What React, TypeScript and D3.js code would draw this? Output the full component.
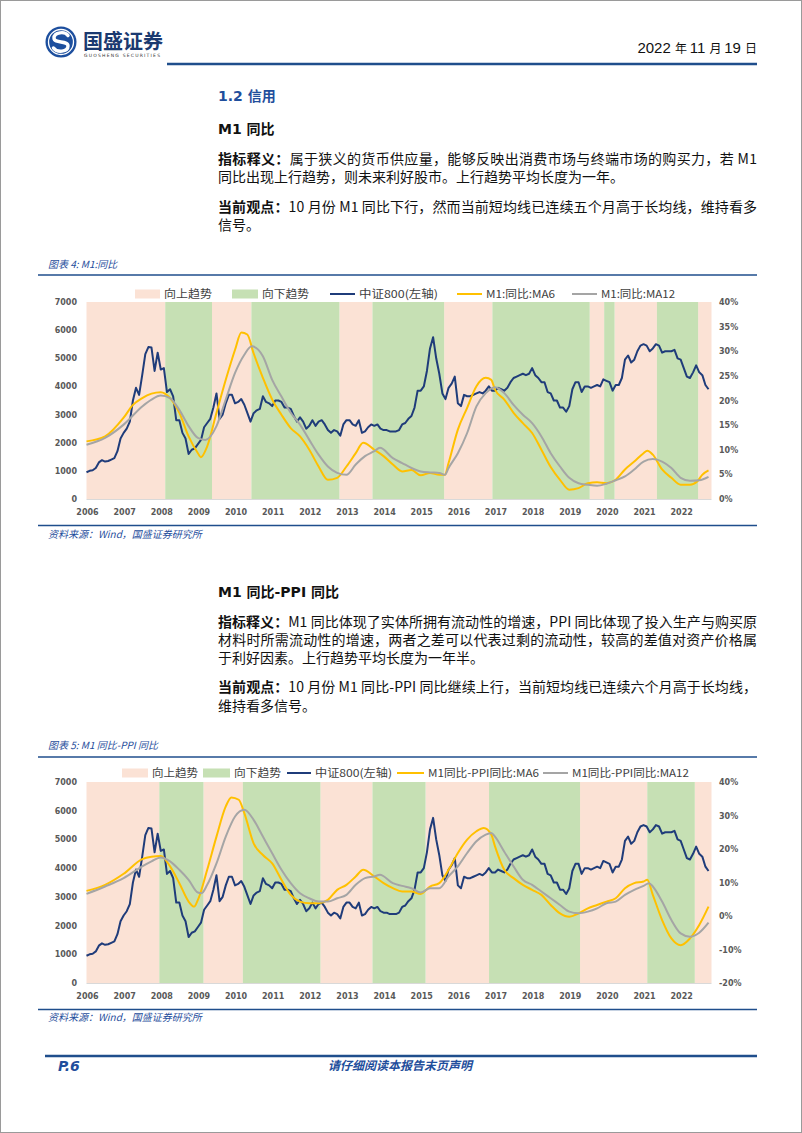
import * as d3 from 'd3';
import React from 'react';

const CJK = '"Noto Sans CJK SC", "Noto Sans", sans-serif';
const AXIS_FONT = '"DejaVu Sans", Verdana, sans-serif';
const BLUE = '#1f4e9c';
const NAVY = '#1f3c7a';
const YELLOW = '#ffc000';
const GRAY = '#a5a5a5';
const PINK = '#fbe2d5';
const GREEN = '#c6e0b4';

// monthly 2006-01 .. 2022-10
const months = d3.range(202).map(i => 2006 + i / 12);
const yearTicks = d3.range(2006, 2023);

// 中证800 monthly close (approx)
const csi800 = [
  950, 1000, 1020, 1100, 1300, 1380, 1330, 1350, 1400, 1450, 1700, 2150,
  2350, 2500, 2750, 3500, 3950, 3700, 4400, 5150, 5400, 5380, 4550, 5200,
  4600, 4650, 3800, 3900, 3650, 2800, 2800, 2350, 2150, 1600, 1750, 1800,
  1950, 2100, 2550, 2700, 2850, 3250, 3750, 2850, 3000, 3400, 3700, 3700,
  3400, 3450, 3550, 3350, 3050, 2750, 3050, 3150, 3200, 3650, 3450, 3400,
  3300, 3500, 3500, 3450, 3250, 3250, 3200, 2950, 2750, 2900, 2750, 2500,
  2600, 2800, 2600, 2750, 2800, 2650, 2450, 2350, 2450, 2400, 2250, 2650,
  2800, 2800, 2650, 2600, 2800, 2350, 2400, 2550, 2650, 2600, 2650, 2500,
  2450, 2450, 2400, 2400, 2400, 2450, 2650, 2700, 2850, 2950, 3250, 3850,
  3850, 4000, 4550, 5350, 5750, 5000, 4450, 3750, 3550, 3950, 4100, 4350,
  3400, 3300, 3700, 3650, 3650, 3700, 3750, 3800, 3750, 3850, 4000, 3850,
  3850, 3950, 3900, 3850, 3950, 4150, 4300, 4350, 4400, 4450, 4400, 4450,
  4650, 4400, 4300, 4150, 4150, 3800, 3750, 3500, 3500, 3250, 3250, 3100,
  3300, 3900, 4150, 4150, 3800, 4000, 4000, 3950, 4000, 4050, 4000, 4250,
  4200, 4150, 3850, 4050, 4050, 4300, 4950, 5100, 4850, 4950, 5250, 5450,
  5500, 5450, 5250, 5350, 5500, 5450, 5200, 5250, 5250, 5250, 5300, 5000,
  4950, 4650, 4350, 4300, 4500, 4750, 4500, 4400, 4050, 3900,
];

// M1 同比 moving averages (%), [year, value]
const m1Ma6: [number, number][] = [
  [2006.0, 11.7], [2006.5, 12.7], [2007.0, 16.5], [2007.25, 19.1], [2007.5, 20.5], [2007.75, 21.4],
  [2008.0, 21.7], [2008.25, 20.5], [2008.5, 17.5], [2008.75, 12.7], [2009.0, 9.3], [2009.08, 8.5],
  [2009.25, 10.7], [2009.5, 17.5], [2009.75, 24.2], [2010.0, 30.3], [2010.17, 33.8], [2010.33, 33.4],
  [2010.5, 29.6], [2010.75, 24.6], [2011.0, 20.2], [2011.25, 17.1], [2011.5, 14.4], [2011.75, 12.7],
  [2012.0, 10.0], [2012.25, 6.6], [2012.5, 3.9], [2012.75, 4.3], [2013.0, 6.6], [2013.25, 9.3],
  [2013.45, 11.4], [2013.75, 10.0], [2014.0, 8.7], [2014.25, 7.0], [2014.5, 5.6], [2014.75, 5.9],
  [2015.0, 4.8], [2015.25, 5.3], [2015.5, 4.9], [2015.65, 4.9], [2015.75, 7.3], [2016.0, 14.1],
  [2016.25, 18.5], [2016.5, 22.9], [2016.75, 24.6], [2016.9, 24.2], [2017.0, 22.2], [2017.25, 20.2],
  [2017.5, 17.5], [2017.75, 15.4], [2018.0, 13.4], [2018.25, 10.0], [2018.5, 6.5], [2018.75, 3.9],
  [2019.0, 1.9], [2019.25, 2.2], [2019.5, 3.2], [2019.75, 3.4], [2020.0, 3.2], [2020.25, 3.9],
  [2020.5, 6.0], [2020.75, 7.6], [2021.0, 9.3], [2021.1, 9.8], [2021.25, 9.0], [2021.5, 6.0],
  [2021.75, 4.3], [2022.0, 2.9], [2022.25, 2.9], [2022.45, 3.6], [2022.58, 4.9], [2022.75, 5.8],
];
const m1Ma12: [number, number][] = [
  [2006.0, 11.0], [2006.5, 12.4], [2007.0, 15.1], [2007.5, 18.8], [2007.75, 20.2], [2008.0, 21.0],
  [2008.25, 20.5], [2008.5, 18.1], [2008.75, 14.8], [2009.0, 12.4], [2009.2, 12.0], [2009.5, 14.8],
  [2009.75, 20.2], [2010.0, 25.6], [2010.25, 29.3], [2010.45, 31.0], [2010.75, 29.0], [2011.0, 24.2],
  [2011.25, 20.8], [2011.5, 17.5], [2011.75, 15.1], [2012.0, 12.0], [2012.25, 9.0], [2012.5, 6.6],
  [2012.75, 5.3], [2013.0, 4.9], [2013.25, 7.0], [2013.5, 8.7], [2013.75, 9.7], [2013.9, 10.4],
  [2014.25, 8.3], [2014.5, 7.3], [2014.75, 6.3], [2015.0, 5.6], [2015.25, 5.4], [2015.5, 5.3],
  [2015.65, 4.9], [2015.75, 6.3], [2016.0, 9.3], [2016.25, 13.4], [2016.5, 18.8], [2016.75, 21.5],
  [2017.0, 22.7], [2017.25, 21.5], [2017.5, 19.1], [2017.75, 17.1], [2018.0, 15.4], [2018.25, 12.7],
  [2018.5, 9.3], [2018.75, 6.6], [2019.0, 4.3], [2019.25, 3.2], [2019.5, 2.9], [2019.75, 2.7],
  [2020.0, 3.1], [2020.25, 3.8], [2020.5, 4.6], [2020.75, 6.0], [2021.0, 7.6], [2021.25, 8.1],
  [2021.5, 7.6], [2021.75, 6.3], [2022.0, 4.3], [2022.25, 3.7], [2022.5, 3.8], [2022.75, 4.5],
];

// M1 同比-PPI 同比 moving averages (%)
const gapMa6: [number, number][] = [
  [2006.0, 7.5], [2006.5, 9.3], [2007.0, 12.6], [2007.5, 17.0], [2007.75, 17.7], [2008.0, 17.9],
  [2008.25, 14.8], [2008.5, 9.8], [2008.75, 4.3], [2008.9, 2.8], [2009.0, 4.8], [2009.25, 13.8],
  [2009.5, 23.7], [2009.75, 32.7], [2009.9, 35.4], [2010.1, 34.7], [2010.25, 30.7], [2010.5, 21.7],
  [2010.75, 18.2], [2011.0, 15.7], [2011.25, 10.8], [2011.5, 6.3], [2011.75, 4.3], [2012.0, 3.8],
  [2012.25, 3.8], [2012.5, 4.8], [2012.75, 7.8], [2013.0, 9.3], [2013.25, 11.8], [2013.45, 13.8],
  [2013.75, 11.8], [2014.0, 9.8], [2014.25, 8.3], [2014.5, 7.3], [2014.75, 7.3], [2015.0, 6.6],
  [2015.25, 8.8], [2015.5, 9.8], [2015.75, 13.8], [2016.0, 18.8], [2016.25, 22.8], [2016.5, 25.3],
  [2016.7, 26.3], [2016.9, 24.3], [2017.0, 20.8], [2017.25, 13.8], [2017.5, 11.3], [2017.75, 9.3],
  [2018.0, 7.8], [2018.25, 6.3], [2018.5, 3.3], [2018.75, 0.8], [2019.0, -0.2], [2019.25, 0.8],
  [2019.5, 2.3], [2019.75, 3.3], [2020.0, 4.3], [2020.25, 5.3], [2020.5, 8.3], [2020.75, 9.8],
  [2021.0, 10.3], [2021.1, 10.8], [2021.25, 6.3], [2021.5, -1.2], [2021.75, -6.7], [2022.0, -8.7],
  [2022.25, -6.7], [2022.5, -2.7], [2022.75, 2.8],
];
const gapMa12: [number, number][] = [
  [2006.0, 6.6], [2006.5, 8.8], [2007.0, 11.3], [2007.5, 14.8], [2007.75, 16.3], [2008.0, 17.5],
  [2008.25, 16.3], [2008.5, 13.8], [2008.75, 10.8], [2009.0, 7.0], [2009.1, 6.8], [2009.25, 9.3],
  [2009.5, 15.7], [2009.75, 23.7], [2010.0, 29.7], [2010.25, 31.7], [2010.5, 28.7], [2010.75, 23.7],
  [2011.0, 18.7], [2011.25, 13.8], [2011.5, 9.8], [2011.75, 6.8], [2012.0, 5.3], [2012.25, 4.3],
  [2012.5, 4.3], [2012.75, 5.3], [2013.0, 6.3], [2013.25, 9.3], [2013.5, 11.3], [2013.75, 11.8],
  [2013.9, 12.3], [2014.25, 9.8], [2014.5, 9.0], [2014.75, 8.3], [2015.0, 7.0], [2015.25, 8.3],
  [2015.5, 8.3], [2015.75, 11.8], [2016.0, 14.8], [2016.25, 18.8], [2016.5, 22.3], [2016.75, 24.3],
  [2016.9, 24.8], [2017.0, 23.7], [2017.25, 19.2], [2017.5, 14.8], [2017.75, 10.8], [2018.0, 9.3],
  [2018.25, 7.3], [2018.5, 5.3], [2018.75, 3.3], [2019.0, 1.3], [2019.25, 0.8], [2019.5, 1.3],
  [2019.75, 2.3], [2020.0, 3.8], [2020.25, 4.3], [2020.5, 6.3], [2020.75, 7.8], [2021.0, 9.0],
  [2021.15, 9.8], [2021.25, 8.8], [2021.5, 4.3], [2021.75, -1.2], [2022.0, -5.2], [2022.25, -6.2],
  [2022.4, -5.7], [2022.5, -5.0], [2022.75, -2.0],
];

// trend periods [start, end]
const m1Up: [number, number][] = [
  [2006.0, 2008.12], [2009.38, 2010.44], [2012.81, 2013.7], [2015.63, 2016.93],
  [2019.55, 2019.94], [2020.22, 2021.36], [2022.47, 2022.83],
];
const m1Down: [number, number][] = [
  [2008.12, 2009.38], [2010.44, 2012.81], [2013.7, 2015.63], [2016.93, 2019.55],
  [2019.94, 2020.22], [2021.36, 2022.47],
];
const gapUp: [number, number][] = [
  [2006.0, 2007.96], [2009.15, 2010.21], [2012.3, 2013.7], [2015.13, 2016.84],
  [2019.29, 2021.1], [2022.38, 2022.83],
];
const gapDown: [number, number][] = [
  [2007.96, 2009.15], [2010.21, 2012.3], [2013.7, 2015.13], [2016.84, 2019.29], [2021.1, 2022.38],
];

const leftTicks = d3.range(0, 7001, 1000);

type LegendItem = { kind: 'rect' | 'line'; color: string; x: number; w: number; label: string; tw: number };

type ChartProps = {
  top: number;
  bottom: number;
  rightDomain: [number, number];
  rightTicks: number[];
  up: [number, number][];
  down: [number, number][];
  ma6: [number, number][];
  ma12: [number, number][];
  legendY: number;
  legend: LegendItem[];
};

const PLOT_L = 86.5;
const PLOT_R = 711.5;

function Chart({ top, bottom, rightDomain, rightTicks, up, down, ma6, ma12, legendY, legend }: ChartProps) {
  const x = d3.scaleLinear().domain([2006, 2022.83]).range([PLOT_L, PLOT_R]);
  const yL = d3.scaleLinear().domain([0, 7000]).range([bottom, top]);
  const yR = d3.scaleLinear().domain(rightDomain).range([bottom, top]);
  const lineL = d3.line<number>().x((_, i) => x(months[i])).y(d => yL(d));
  const lineR = d3.line<[number, number]>().x(d => x(d[0])).y(d => yR(d[1])).curve(d3.curveMonotoneX);

  return (
    <g>
      {up.map((p, i) => (
        <rect key={'u' + i} x={x(p[0])} y={top} width={x(p[1]) - x(p[0])} height={bottom - top} fill={PINK} />
      ))}
      {down.map((p, i) => (
        <rect key={'d' + i} x={x(p[0])} y={top} width={x(p[1]) - x(p[0])} height={bottom - top} fill={GREEN} />
      ))}
      <line x1={PLOT_L} x2={PLOT_R} y1={bottom + 0.5} y2={bottom + 0.5} stroke="#d9d9d9" />
      <path d={lineL(csi800) || ''} fill="none" stroke={NAVY} strokeWidth={2} strokeLinejoin="round" />
      <path d={lineR(ma6) || ''} fill="none" stroke={YELLOW} strokeWidth={2} />
      <path d={lineR(ma12) || ''} fill="none" stroke={GRAY} strokeWidth={2} />
      <g fontFamily={AXIS_FONT} fontSize={8} fontWeight="bold" fill="#595959">
        {leftTicks.map(t => (
          <text key={'l' + t} x={77} y={yL(t) + 3} textAnchor="end">{t}</text>
        ))}
        {rightTicks.map(t => (
          <text key={'r' + t} x={719} y={yR(t) + 3}>{t + '%'}</text>
        ))}
        {yearTicks.map(t => (
          <text key={'x' + t} x={x(t) + 1} y={bottom + 16} textAnchor="middle">{t}</text>
        ))}
      </g>
      <g fontFamily={CJK} fontSize={11} fill="#404040">
        {legend.map((it, i) => (
          <g key={'lg' + i}>
            {it.kind === 'rect' ? (
              <rect x={it.x} y={legendY - 4.5} width={it.w} height={9} fill={it.color} />
            ) : (
              <line x1={it.x} x2={it.x + it.w} y1={legendY} y2={legendY} stroke={it.color} strokeWidth={2} />
            )}
            <text x={it.x + it.w + 4} y={legendY + 4} textLength={it.tw} lengthAdjust="spacingAndGlyphs">{it.label}</text>
          </g>
        ))}
      </g>
    </g>
  );
}

const legend1: LegendItem[] = [
  { kind: 'rect', color: PINK, x: 135, w: 25, label: '向上趋势', tw: 48 },
  { kind: 'rect', color: GREEN, x: 232, w: 26, label: '向下趋势', tw: 47 },
  { kind: 'line', color: NAVY, x: 330, w: 25, label: '中证800(左轴)', tw: 79 },
  { kind: 'line', color: YELLOW, x: 457, w: 25, label: 'M1:同比:MA6', tw: 69 },
  { kind: 'line', color: GRAY, x: 572, w: 25, label: 'M1:同比:MA12', tw: 74 },
];
const legend2: LegendItem[] = [
  { kind: 'rect', color: PINK, x: 122, w: 26, label: '向上趋势', tw: 46 },
  { kind: 'rect', color: GREEN, x: 203, w: 27, label: '向下趋势', tw: 47 },
  { kind: 'line', color: NAVY, x: 287, w: 24, label: '中证800(左轴)', tw: 77 },
  { kind: 'line', color: YELLOW, x: 397, w: 27, label: 'M1同比-PPI同比:MA6', tw: 111 },
  { kind: 'line', color: GRAY, x: 543, w: 25, label: 'M1同比-PPI同比:MA12', tw: 117 },
];

const TX = 218;
const TW = 539;

function Para({ y, bold, text, justify }: { y: number; bold?: string; text: string; justify?: boolean }) {
  return (
    <text x={TX} y={y} fontFamily={CJK} fontSize={14} fill="#111"
      {...(justify ? { textLength: TW, lengthAdjust: 'spacing' } : {})}>
      {bold ? <tspan fontWeight="bold">{bold}</tspan> : null}
      {text}
    </text>
  );
}

export default function App() {
  return (
    <svg width={802} height={1133} style={{ position: 'absolute', left: 0, top: 0, display: 'block', background: '#fff' }}>
      <rect x={0.5} y={0.5} width={801} height={1132} fill="#fff" stroke="#9a9a9a" />

      {/* header */}
      <g transform="translate(61,42)">
        <circle r={15.5} fill="#1d4f9e" />
        <circle r={12.5} fill="none" stroke="#fff" strokeWidth={1.3} />
        <path d="M7,-6.5 C4,-11 -7,-10 -7,-4 C-7,2 7,-2 7,4 C7,10 -4,11 -7.5,6"
          fill="none" stroke="#fff" strokeWidth={3.4} strokeLinecap="round" />
      </g>
      <text x={83} y={49} fontFamily={CJK} fontSize={20} fontWeight="bold" fill="#1b3a70">国盛证券</text>
      <text x={84} y={57} fontFamily={AXIS_FONT} fontSize={4.5} fill="#333" textLength={76} lengthAdjust="spacing">GUOSHENG SECURITIES</text>
      <text x={757} y={53} textAnchor="end" fill="#111">
        <tspan fontFamily='"Liberation Sans Narrow", "Liberation Sans", sans-serif' fontSize={15}>2022 </tspan>
        <tspan fontFamily={CJK} fontSize={12}>年 </tspan>
        <tspan fontFamily='"Liberation Sans Narrow", "Liberation Sans", sans-serif' fontSize={15}>11 </tspan>
        <tspan fontFamily={CJK} fontSize={12}>月 </tspan>
        <tspan fontFamily='"Liberation Sans Narrow", "Liberation Sans", sans-serif' fontSize={15}>19 </tspan>
        <tspan fontFamily={CJK} fontSize={12}>日</tspan>
      </text>
      <line x1={167} x2={757} y1={64} y2={64} stroke="#1f4e8c" strokeWidth={2.5} />

      {/* section 1 */}
      <text x={TX} y={101} fill={BLUE} fontWeight="bold" fontSize={14}>
        <tspan fontFamily={AXIS_FONT}>1.2 </tspan><tspan fontFamily={CJK}>信用</tspan>
      </text>
      <text x={TX} y={134} fill="#111" fontWeight="bold" fontSize={14}>
        <tspan fontFamily={AXIS_FONT}>M1 </tspan><tspan fontFamily={CJK}>同比</tspan>
      </text>
      <Para y={164} bold="指标释义：" text="属于狭义的货币供应量，能够反映出消费市场与终端市场的购买力，若 M1" justify />
      <Para y={182} text="同比出现上行趋势，则未来利好股市。上行趋势平均长度为一年。" />
      <Para y={212} bold="当前观点：" text="10 月份 M1 同比下行，然而当前短均线已连续五个月高于长均线，维持看多" justify />
      <Para y={230} text="信号。" />

      <text x={48} y={268} fontFamily={CJK} fontSize={10} fontStyle="italic" fill={BLUE}>图表 4:  M1:同比</text>
      <line x1={38} x2={757} y1={275} y2={275} stroke="#1f4e8c" strokeWidth={1.5} />
      <Chart top={302} bottom={499} rightDomain={[0, 40]} rightTicks={d3.range(0, 41, 5)}
        up={m1Up} down={m1Down} ma6={m1Ma6} ma12={m1Ma12} legendY={294} legend={legend1} />
      <line x1={38} x2={757} y1={525.5} y2={525.5} stroke="#1f4e8c" strokeWidth={1.5} />
      <text x={48} y={538} fontFamily={CJK} fontSize={10} fontStyle="italic" fill={BLUE}>资料来源：Wind，国盛证券研究所</text>

      {/* section 2 */}
      <text x={TX} y={597} fill="#111" fontWeight="bold" fontSize={14}>
        <tspan fontFamily={AXIS_FONT}>M1 </tspan><tspan fontFamily={CJK}>同比</tspan>
        <tspan fontFamily={AXIS_FONT}>-PPI </tspan><tspan fontFamily={CJK}>同比</tspan>
      </text>
      <Para y={627} bold="指标释义：" text="M1 同比体现了实体所拥有流动性的增速，PPI 同比体现了投入生产与购买原" justify />
      <Para y={645} text="材料时所需流动性的增速，两者之差可以代表过剩的流动性，较高的差值对资产价格属" justify />
      <Para y={663} text="于利好因素。上行趋势平均长度为一年半。" />
      <Para y={692} bold="当前观点：" text="10 月份 M1 同比-PPI 同比继续上行，当前短均线已连续六个月高于长均线，" justify />
      <Para y={711} text="维持看多信号。" />

      <text x={48} y={749} fontFamily={CJK} fontSize={10} fontStyle="italic" fill={BLUE}>图表 5:  M1 同比-PPI 同比</text>
      <line x1={38} x2={757} y1={757} y2={757} stroke="#1f4e8c" strokeWidth={1.5} />
      <Chart top={782} bottom={983} rightDomain={[-20, 40]} rightTicks={d3.range(-20, 41, 10)}
        up={gapUp} down={gapDown} ma6={gapMa6} ma12={gapMa12} legendY={773} legend={legend2} />
      <line x1={38} x2={757} y1={1009.5} y2={1009.5} stroke="#1f4e8c" strokeWidth={1.5} />
      <text x={48} y={1021} fontFamily={CJK} fontSize={10} fontStyle="italic" fill={BLUE}>资料来源：Wind，国盛证券研究所</text>

      {/* footer */}
      <line x1={45} x2={757} y1={1056} y2={1056} stroke="#1f4e8c" strokeWidth={2.5} />
      <text x={58} y={1071} fontFamily={AXIS_FONT} fontSize={14} fontWeight="bold" fontStyle="italic" fill={BLUE}>P.6</text>
      <text x={400} y={1070} textAnchor="middle" fontFamily={CJK} fontSize={12} fontWeight="bold" fontStyle="italic" fill={BLUE}>请仔细阅读本报告末页声明</text>
    </svg>
  );
}
